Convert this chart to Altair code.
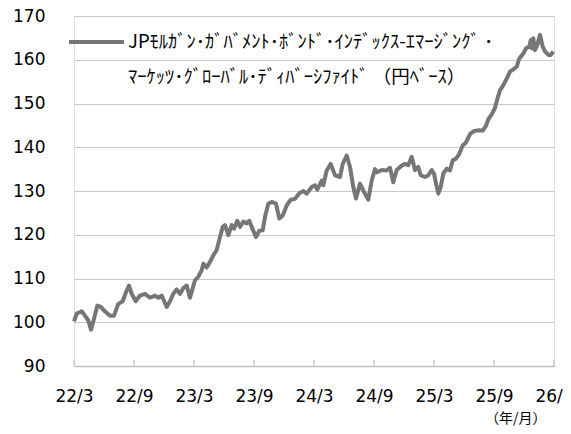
import altair as alt
import pandas as pd

# ---- data (months after 2022/3, index value) ----
months = [0.0, 0.27, 0.77, 1.1, 1.43, 1.7, 2.0, 2.33, 2.67, 3.0, 3.6, 4.0, 4.43, 4.87, 5.2, 5.5, 5.77,
          6.17, 6.6, 7.1, 7.6, 8.1, 8.43, 8.77, 9.27, 9.6, 9.93, 10.27, 10.6, 10.93, 11.27, 11.6,
          12.1, 12.43, 12.77, 12.93, 13.27, 13.6, 13.93, 14.27, 14.6, 14.87, 15.1, 15.43, 15.77, 16.0,
          16.33, 16.6, 16.93, 17.27, 17.53, 17.77, 18.2, 18.53, 18.87, 19.1, 19.43, 19.77, 20.2, 20.53,
          20.87, 21.27, 21.67, 22.1, 22.53,
          22.93, 23.27, 23.77, 24.1, 24.33, 24.77, 24.93, 25.27, 25.67, 26.1, 26.6, 26.87, 27.27, 27.6,
          27.93, 28.2, 28.6, 29.0, 29.43, 29.77, 30.1, 30.33, 30.77, 31.27, 31.6, 31.93, 32.27, 32.77,
          33.1, 33.43, 33.77, 34.1, 34.43, 34.67, 35.1, 35.43, 35.77, 36.0, 36.2, 36.43, 36.67, 36.93,
          37.27, 37.6, 37.87, 38.2, 38.53, 38.87, 39.2, 39.6, 39.93, 40.2, 40.53, 40.87, 41.2, 41.43,
          41.77, 42.1, 42.33, 42.6,
          42.93, 43.27, 43.6, 43.93, 44.27, 44.53, 44.93, 45.2, 45.53, 45.67, 45.8, 45.93, 46.1, 46.33,
          46.6, 46.87, 47.1, 47.43, 47.67, 47.93]
values = [100.2, 102.0, 102.5, 101.5, 100.4, 98.3, 100.8, 103.8, 103.5, 102.7, 101.5, 101.5, 104.2, 104.8, 106.9, 108.4, 106.5,
          104.8, 106.1, 106.5, 105.6, 106.1, 105.6, 106.1, 103.5, 104.8, 106.5, 107.5, 106.5, 107.8, 108.4, 105.6,
          109.6, 110.4, 111.9, 113.4, 112.5, 113.8, 115.3, 116.5, 119.5, 121.8, 122.2, 119.9, 122.2, 121.4,
          123.2, 121.8, 123.0, 122.6, 123.2, 121.8, 119.5, 120.9, 121.0, 124.1, 127.1, 127.5, 127.1, 123.7,
          124.4, 126.7, 128.0, 128.2, 129.5,
          130.0, 129.4, 130.9, 131.3, 130.3, 132.4, 131.3, 134.7, 136.2, 133.6, 133.2, 136.2, 138.1, 135.5,
          130.9, 128.3, 131.7, 129.8, 128.0, 132.4, 135.0, 134.3, 134.8, 134.7, 135.3, 132.0, 134.8, 135.8,
          136.2, 135.9, 137.8, 134.8, 135.5, 133.6, 133.2, 133.6, 134.8, 134.0, 131.7, 129.4, 130.9, 134.0,
          135.1, 134.7, 137.0, 137.4, 138.5, 140.4, 141.1, 143.0, 143.6, 143.8, 143.9, 143.8, 144.9, 146.4,
          147.5, 149.0, 151.0, 153.0,
          154.2, 155.7, 157.3, 157.8, 158.4, 160.3, 161.4, 162.6, 163.0, 164.5, 162.6, 164.9, 162.2, 163.4,
          165.7, 163.0, 161.9, 161.1, 161.1, 161.9]

tick_months = [0, 6, 12, 18, 24, 30, 36, 42, 48]
tick_labels = ["22/3", "22/9", "23/3", "23/9", "24/3", "24/9", "25/3", "25/9", "26/3"]
y_ticks = [90, 100, 110, 120, 130, 140, 150, 160, 170]

legend_line1 = "JPﾓﾙｶﾞﾝ･ｶﾞﾊﾞﾒﾝﾄ･ﾎﾞﾝﾄﾞ･ｲﾝﾃﾞｯｸｽ-ｴﾏｰｼﾞﾝｸﾞ ･"
legend_line2 = "ﾏｰｹｯﾂ･ｸﾞﾛｰﾊﾞﾙ･ﾃﾞｨﾊﾞｰｼﾌｧｲﾄﾞ （円ﾍﾞｰｽ）"
x_title = "（年/月）"

W, H = 480, 350
LINE_COLOR = "#767676"
AXIS_GRAY = "#bfbfbf"

df = pd.DataFrame({"m": months, "v": values})
ticks_df = pd.DataFrame({"m": tick_months})

label_expr = "[" + ",".join("'" + t + "'" for t in tick_labels) + "][round(datum.value/6)]"

x_enc = alt.X("m:Q", scale=alt.Scale(domain=[0, 48], nice=False, zero=False),
              axis=alt.Axis(values=tick_months, labelExpr=label_expr, grid=False, ticks=False,
                            domain=True, domainColor=AXIS_GRAY, domainWidth=1.5,
                            labelFont="DejaVu Sans", labelFontSize=17, labelColor="#000000",
                            labelPadding=22, labelFlush=False, labelOverlap=False,
                            title=x_title, titleFont="Noto Sans CJK JP", titleFontSize=14,
                            titleFontWeight="normal", titleColor="#000000",
                            titleAnchor="end", titleAlign="right", titleX=W - 8, titleY=52,
                            titleBaseline="middle"))
y_enc = alt.Y("v:Q", scale=alt.Scale(domain=[90, 170], nice=False, zero=False),
              axis=alt.Axis(values=y_ticks, grid=True, gridColor="#c8c8c8", gridWidth=1,
                            ticks=False, domain=False, labelFont="DejaVu Sans", labelFontSize=17,
                            labelColor="#000000", labelPadding=29, title=None))

line = alt.Chart(df).mark_line(color=LINE_COLOR, strokeWidth=4, strokeJoin="round").encode(x=x_enc, y=y_enc)

tick_rules = alt.Chart(ticks_df).mark_rule(color=AXIS_GRAY, strokeWidth=1.2).encode(
    x=alt.X("m:Q"), y=alt.value(H - 6), y2=alt.value(H))

one = pd.DataFrame({"a": [0]})
legend_sym = alt.Chart(one).mark_rule(color=LINE_COLOR, strokeWidth=4).encode(
    x=alt.value(-5), x2=alt.value(50), y=alt.value(26))
legend_t1 = alt.Chart(one).mark_text(align="left", baseline="middle", font="Noto Sans CJK JP",
                                     fontSize=18.5, color="#000000").encode(
    x=alt.value(54), y=alt.value(26), text=alt.value(legend_line1))
legend_t2 = alt.Chart(one).mark_text(align="left", baseline="middle", font="Noto Sans CJK JP",
                                     fontSize=18.5, color="#000000").encode(
    x=alt.value(54), y=alt.value(61), text=alt.value(legend_line2))

chart = alt.layer(tick_rules, line, legend_sym, legend_t1, legend_t2).properties(
    width=W, height=H,
    autosize=alt.AutoSizeParams(type="none"),
    padding={"left": 66, "top": 8, "right": 9, "bottom": 60},
).configure_view(stroke=None).configure(background="#ffffff")

chart.save("out.html", embed_options={"renderer": "svg", "actions": False})
